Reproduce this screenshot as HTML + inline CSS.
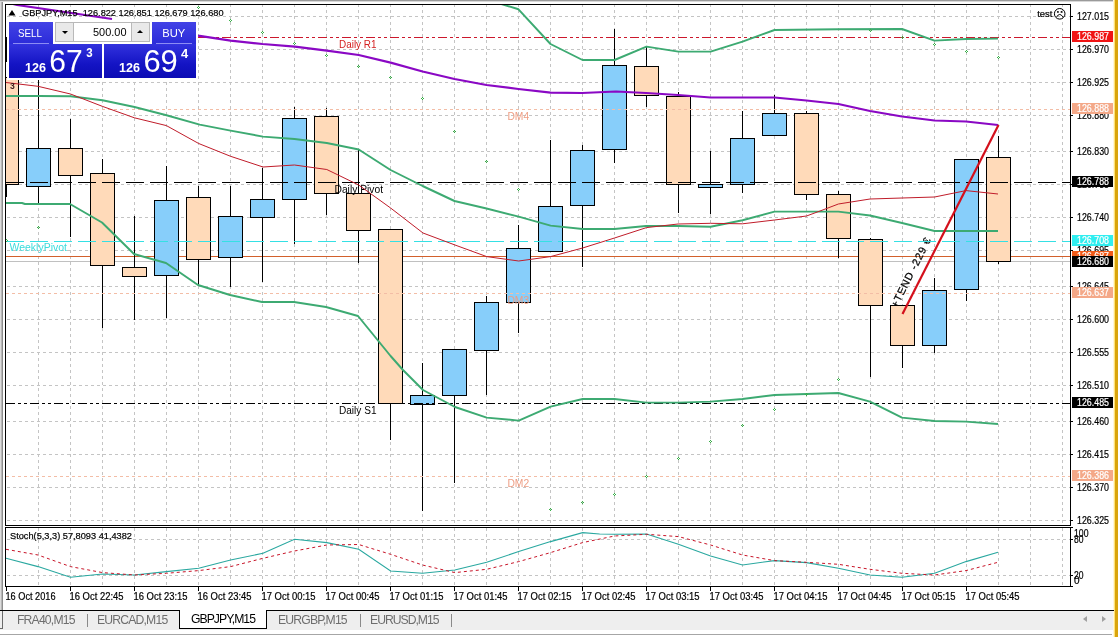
<!DOCTYPE html>
<html lang="en">
<head>
<meta charset="utf-8">
<title>GBPJPY,M15</title>
<style>
html,body{margin:0;padding:0;background:#fff;}
body{width:1118px;height:637px;overflow:hidden;position:relative;font-family:"Liberation Sans",Arial,sans-serif;}
#chart{position:absolute;left:0;top:0;display:block;}
/* one click trading panel */
#oct{position:absolute;left:9px;top:22px;width:187px;height:56px;background:#fff;box-shadow:0 0 0 2px #fff;}
#oct .btn{position:absolute;color:#fff;background:linear-gradient(#4343e6,#2a2ad8);}
#oct .sell{left:0;top:0;width:44px;height:23px;}
#oct .buy{left:143px;top:0;width:44px;height:23px;}
#oct .lbl{position:absolute;left:0;top:0;display:block;}
#oct .btn span{position:absolute;left:0;right:0;top:4px;text-align:center;font-size:12px;line-height:14px;letter-spacing:-0.6px;}
#oct .btn i{position:absolute;left:4px;right:4px;bottom:0;height:1px;background:#8a8af2;}
#oct .px{position:absolute;top:22px;height:34px;background:linear-gradient(#3232de,#1414c4 60%,#0c0cb4);color:#fff;}
#oct .pxs{left:0;width:93px;}
#oct .pxb{left:95px;width:92px;}
#oct .px b{position:absolute;font-weight:bold;font-size:12px;line-height:12px;}
#oct .px em{position:absolute;font-style:normal;font-size:31px;line-height:31px;letter-spacing:-2.4px;font-weight:normal;}
#oct .px sup{position:absolute;font-size:11px;line-height:11px;font-weight:bold;}
#oct .spin{position:absolute;top:0;height:18px;width:17px;background:#e9e9e9;border:1px solid #b9b9b9;box-sizing:content-box;}
#oct .spin.dn{left:46px;}
#oct .spin.up{left:122px;}
#oct .spin u{position:absolute;left:6px;top:8px;width:0;height:0;border-left:3px solid transparent;border-right:3px solid transparent;}
#oct .spin.dn u{border-top:3px solid #000;}
#oct .spin.up u{border-bottom:3px solid #000;top:7px;left:5px;}
#oct .vol{position:absolute;left:65px;top:0;width:57px;height:18px;border-top:1px solid #b9b9b9;border-bottom:1px solid #b9b9b9;background:#fff;font-size:11.5px;line-height:19px;text-align:right;letter-spacing:-0.5px;}
#oct .vol span{padding-right:5px;color:#000;}
/* tab bar */
#tabs{position:absolute;left:0;top:610px;width:1113px;height:27px;background:#fff;}
#tabs .line{position:absolute;left:0;top:0;width:1114px;height:1px;background:#000;}
#tabs .bar{position:absolute;left:0;top:1px;width:1113px;height:19px;background:#eeeeee;}
#tabs .edge{position:absolute;left:2px;top:1px;width:1px;height:18px;background:#6a6a6a;}
#tabs .edge2{position:absolute;left:0;top:18px;width:3px;height:1px;background:#6a6a6a;}
#tabs .under{position:absolute;left:0;top:24px;width:1112px;height:1px;background:#a6a6a6;}
#tabs .tab{position:absolute;top:1px;height:18px;font-size:12.2px;line-height:18px;color:#6e6e6e;white-space:nowrap;letter-spacing:-0.82px;}
#tabs .sep{position:absolute;top:4px;width:1px;height:13px;background:#8a8a8a;}
#tabs .active{color:#000;background:#fff;top:0;height:18px;border:1px solid #000;border-top:none;padding:0;text-align:center;}
#tabs .arr{position:absolute;top:6px;width:0;height:0;border-top:3px solid transparent;border-bottom:3px solid transparent;}
#tabs .arr.l{left:1083px;border-right:4px solid #a0a0a0;}
#tabs .arr.r{left:1102px;border-left:4px solid #a0a0a0;}
</style>
</head>
<body>
<svg id="chart" width="1118" height="637" viewBox="0 0 1118 637" font-family="Liberation Sans, Arial, sans-serif">
<defs>
<clipPath id="cm"><rect x="6" y="5" width="1064" height="520"/></clipPath>
<clipPath id="ci"><rect x="6" y="528" width="1064" height="58"/></clipPath>
</defs>
<rect x="0" y="0" width="1118" height="637" fill="#fff"/>
<g shape-rendering="crispEdges" clip-path="url(#cm)">
<line x1="38.5" y1="4" x2="38.5" y2="525" stroke="#c4c4c4" stroke-width="1" stroke-dasharray="3 3" />
<line x1="70.5" y1="4" x2="70.5" y2="525" stroke="#c4c4c4" stroke-width="1" stroke-dasharray="3 3" />
<line x1="102.5" y1="4" x2="102.5" y2="525" stroke="#c4c4c4" stroke-width="1" stroke-dasharray="3 3" />
<line x1="134.5" y1="4" x2="134.5" y2="525" stroke="#c4c4c4" stroke-width="1" stroke-dasharray="3 3" />
<line x1="166.5" y1="4" x2="166.5" y2="525" stroke="#c4c4c4" stroke-width="1" stroke-dasharray="3 3" />
<line x1="198.5" y1="4" x2="198.5" y2="525" stroke="#c4c4c4" stroke-width="1" stroke-dasharray="3 3" />
<line x1="230.5" y1="4" x2="230.5" y2="525" stroke="#c4c4c4" stroke-width="1" stroke-dasharray="3 3" />
<line x1="262.5" y1="4" x2="262.5" y2="525" stroke="#c4c4c4" stroke-width="1" stroke-dasharray="3 3" />
<line x1="294.5" y1="4" x2="294.5" y2="525" stroke="#c4c4c4" stroke-width="1" stroke-dasharray="3 3" />
<line x1="326.5" y1="4" x2="326.5" y2="525" stroke="#c4c4c4" stroke-width="1" stroke-dasharray="3 3" />
<line x1="358.5" y1="4" x2="358.5" y2="525" stroke="#c4c4c4" stroke-width="1" stroke-dasharray="3 3" />
<line x1="390.5" y1="4" x2="390.5" y2="525" stroke="#c4c4c4" stroke-width="1" stroke-dasharray="3 3" />
<line x1="422.5" y1="4" x2="422.5" y2="525" stroke="#c4c4c4" stroke-width="1" stroke-dasharray="3 3" />
<line x1="454.5" y1="4" x2="454.5" y2="525" stroke="#c4c4c4" stroke-width="1" stroke-dasharray="3 3" />
<line x1="486.5" y1="4" x2="486.5" y2="525" stroke="#c4c4c4" stroke-width="1" stroke-dasharray="3 3" />
<line x1="518.5" y1="4" x2="518.5" y2="525" stroke="#c4c4c4" stroke-width="1" stroke-dasharray="3 3" />
<line x1="550.5" y1="4" x2="550.5" y2="525" stroke="#c4c4c4" stroke-width="1" stroke-dasharray="3 3" />
<line x1="582.5" y1="4" x2="582.5" y2="525" stroke="#c4c4c4" stroke-width="1" stroke-dasharray="3 3" />
<line x1="614.5" y1="4" x2="614.5" y2="525" stroke="#c4c4c4" stroke-width="1" stroke-dasharray="3 3" />
<line x1="646.5" y1="4" x2="646.5" y2="525" stroke="#c4c4c4" stroke-width="1" stroke-dasharray="3 3" />
<line x1="678.5" y1="4" x2="678.5" y2="525" stroke="#c4c4c4" stroke-width="1" stroke-dasharray="3 3" />
<line x1="710.5" y1="4" x2="710.5" y2="525" stroke="#c4c4c4" stroke-width="1" stroke-dasharray="3 3" />
<line x1="742.5" y1="4" x2="742.5" y2="525" stroke="#c4c4c4" stroke-width="1" stroke-dasharray="3 3" />
<line x1="774.5" y1="4" x2="774.5" y2="525" stroke="#c4c4c4" stroke-width="1" stroke-dasharray="3 3" />
<line x1="806.5" y1="4" x2="806.5" y2="525" stroke="#c4c4c4" stroke-width="1" stroke-dasharray="3 3" />
<line x1="838.5" y1="4" x2="838.5" y2="525" stroke="#c4c4c4" stroke-width="1" stroke-dasharray="3 3" />
<line x1="870.5" y1="4" x2="870.5" y2="525" stroke="#c4c4c4" stroke-width="1" stroke-dasharray="3 3" />
<line x1="902.5" y1="4" x2="902.5" y2="525" stroke="#c4c4c4" stroke-width="1" stroke-dasharray="3 3" />
<line x1="934.5" y1="4" x2="934.5" y2="525" stroke="#c4c4c4" stroke-width="1" stroke-dasharray="3 3" />
<line x1="966.5" y1="4" x2="966.5" y2="525" stroke="#c4c4c4" stroke-width="1" stroke-dasharray="3 3" />
<line x1="998.5" y1="4" x2="998.5" y2="525" stroke="#c4c4c4" stroke-width="1" stroke-dasharray="3 3" />
<line x1="1030.5" y1="4" x2="1030.5" y2="525" stroke="#c4c4c4" stroke-width="1" stroke-dasharray="3 3" />
<line x1="1062.5" y1="4" x2="1062.5" y2="525" stroke="#c4c4c4" stroke-width="1" stroke-dasharray="3 3" />
<line x1="7" y1="16.5" x2="1070" y2="16.5" stroke="#c4c4c4" stroke-width="1" stroke-dasharray="3 3" />
<line x1="7" y1="49.5" x2="1070" y2="49.5" stroke="#c4c4c4" stroke-width="1" stroke-dasharray="3 3" />
<line x1="7" y1="82.5" x2="1070" y2="82.5" stroke="#c4c4c4" stroke-width="1" stroke-dasharray="3 3" />
<line x1="7" y1="115.5" x2="1070" y2="115.5" stroke="#c4c4c4" stroke-width="1" stroke-dasharray="3 3" />
<line x1="7" y1="151.5" x2="1070" y2="151.5" stroke="#c4c4c4" stroke-width="1" stroke-dasharray="3 3" />
<line x1="7" y1="184.5" x2="1070" y2="184.5" stroke="#c4c4c4" stroke-width="1" stroke-dasharray="3 3" />
<line x1="7" y1="217.5" x2="1070" y2="217.5" stroke="#c4c4c4" stroke-width="1" stroke-dasharray="3 3" />
<line x1="7" y1="250.5" x2="1070" y2="250.5" stroke="#c4c4c4" stroke-width="1" stroke-dasharray="3 3" />
<line x1="7" y1="286.5" x2="1070" y2="286.5" stroke="#c4c4c4" stroke-width="1" stroke-dasharray="3 3" />
<line x1="7" y1="319.5" x2="1070" y2="319.5" stroke="#c4c4c4" stroke-width="1" stroke-dasharray="3 3" />
<line x1="7" y1="352.5" x2="1070" y2="352.5" stroke="#c4c4c4" stroke-width="1" stroke-dasharray="3 3" />
<line x1="7" y1="385.5" x2="1070" y2="385.5" stroke="#c4c4c4" stroke-width="1" stroke-dasharray="3 3" />
<line x1="7" y1="421.5" x2="1070" y2="421.5" stroke="#c4c4c4" stroke-width="1" stroke-dasharray="3 3" />
<line x1="7" y1="454.5" x2="1070" y2="454.5" stroke="#c4c4c4" stroke-width="1" stroke-dasharray="3 3" />
<line x1="7" y1="487.5" x2="1070" y2="487.5" stroke="#c4c4c4" stroke-width="1" stroke-dasharray="3 3" />
<line x1="7" y1="520.5" x2="1070" y2="520.5" stroke="#c4c4c4" stroke-width="1" stroke-dasharray="3 3" />
</g>
<g shape-rendering="crispEdges" clip-path="url(#ci)">
<line x1="38.5" y1="528" x2="38.5" y2="586" stroke="#c4c4c4" stroke-width="1" stroke-dasharray="3 3" />
<line x1="70.5" y1="528" x2="70.5" y2="586" stroke="#c4c4c4" stroke-width="1" stroke-dasharray="3 3" />
<line x1="102.5" y1="528" x2="102.5" y2="586" stroke="#c4c4c4" stroke-width="1" stroke-dasharray="3 3" />
<line x1="134.5" y1="528" x2="134.5" y2="586" stroke="#c4c4c4" stroke-width="1" stroke-dasharray="3 3" />
<line x1="166.5" y1="528" x2="166.5" y2="586" stroke="#c4c4c4" stroke-width="1" stroke-dasharray="3 3" />
<line x1="198.5" y1="528" x2="198.5" y2="586" stroke="#c4c4c4" stroke-width="1" stroke-dasharray="3 3" />
<line x1="230.5" y1="528" x2="230.5" y2="586" stroke="#c4c4c4" stroke-width="1" stroke-dasharray="3 3" />
<line x1="262.5" y1="528" x2="262.5" y2="586" stroke="#c4c4c4" stroke-width="1" stroke-dasharray="3 3" />
<line x1="294.5" y1="528" x2="294.5" y2="586" stroke="#c4c4c4" stroke-width="1" stroke-dasharray="3 3" />
<line x1="326.5" y1="528" x2="326.5" y2="586" stroke="#c4c4c4" stroke-width="1" stroke-dasharray="3 3" />
<line x1="358.5" y1="528" x2="358.5" y2="586" stroke="#c4c4c4" stroke-width="1" stroke-dasharray="3 3" />
<line x1="390.5" y1="528" x2="390.5" y2="586" stroke="#c4c4c4" stroke-width="1" stroke-dasharray="3 3" />
<line x1="422.5" y1="528" x2="422.5" y2="586" stroke="#c4c4c4" stroke-width="1" stroke-dasharray="3 3" />
<line x1="454.5" y1="528" x2="454.5" y2="586" stroke="#c4c4c4" stroke-width="1" stroke-dasharray="3 3" />
<line x1="486.5" y1="528" x2="486.5" y2="586" stroke="#c4c4c4" stroke-width="1" stroke-dasharray="3 3" />
<line x1="518.5" y1="528" x2="518.5" y2="586" stroke="#c4c4c4" stroke-width="1" stroke-dasharray="3 3" />
<line x1="550.5" y1="528" x2="550.5" y2="586" stroke="#c4c4c4" stroke-width="1" stroke-dasharray="3 3" />
<line x1="582.5" y1="528" x2="582.5" y2="586" stroke="#c4c4c4" stroke-width="1" stroke-dasharray="3 3" />
<line x1="614.5" y1="528" x2="614.5" y2="586" stroke="#c4c4c4" stroke-width="1" stroke-dasharray="3 3" />
<line x1="646.5" y1="528" x2="646.5" y2="586" stroke="#c4c4c4" stroke-width="1" stroke-dasharray="3 3" />
<line x1="678.5" y1="528" x2="678.5" y2="586" stroke="#c4c4c4" stroke-width="1" stroke-dasharray="3 3" />
<line x1="710.5" y1="528" x2="710.5" y2="586" stroke="#c4c4c4" stroke-width="1" stroke-dasharray="3 3" />
<line x1="742.5" y1="528" x2="742.5" y2="586" stroke="#c4c4c4" stroke-width="1" stroke-dasharray="3 3" />
<line x1="774.5" y1="528" x2="774.5" y2="586" stroke="#c4c4c4" stroke-width="1" stroke-dasharray="3 3" />
<line x1="806.5" y1="528" x2="806.5" y2="586" stroke="#c4c4c4" stroke-width="1" stroke-dasharray="3 3" />
<line x1="838.5" y1="528" x2="838.5" y2="586" stroke="#c4c4c4" stroke-width="1" stroke-dasharray="3 3" />
<line x1="870.5" y1="528" x2="870.5" y2="586" stroke="#c4c4c4" stroke-width="1" stroke-dasharray="3 3" />
<line x1="902.5" y1="528" x2="902.5" y2="586" stroke="#c4c4c4" stroke-width="1" stroke-dasharray="3 3" />
<line x1="934.5" y1="528" x2="934.5" y2="586" stroke="#c4c4c4" stroke-width="1" stroke-dasharray="3 3" />
<line x1="966.5" y1="528" x2="966.5" y2="586" stroke="#c4c4c4" stroke-width="1" stroke-dasharray="3 3" />
<line x1="998.5" y1="528" x2="998.5" y2="586" stroke="#c4c4c4" stroke-width="1" stroke-dasharray="3 3" />
<line x1="1030.5" y1="528" x2="1030.5" y2="586" stroke="#c4c4c4" stroke-width="1" stroke-dasharray="3 3" />
<line x1="1062.5" y1="528" x2="1062.5" y2="586" stroke="#c4c4c4" stroke-width="1" stroke-dasharray="3 3" />
<line x1="7" y1="539.5" x2="1070" y2="539.5" stroke="#c4c4c4" stroke-width="1" stroke-dasharray="3 3" />
<line x1="7" y1="575.5" x2="1070" y2="575.5" stroke="#c4c4c4" stroke-width="1" stroke-dasharray="3 3" />
</g>
<g shape-rendering="crispEdges" clip-path="url(#cm)">
<line x1="6" y1="256.5" x2="1070" y2="256.5" stroke="#d2602c" stroke-width="1" />
<line x1="6" y1="261.5" x2="1070" y2="261.5" stroke="#c0c0c0" stroke-width="1" />
</g>
<g clip-path="url(#cm)">
<text transform="translate(897,308.5) rotate(-63.5)" x="0" y="0" font-size="10.5" fill="#000" stroke="#000" stroke-width="0.25" textLength="76.5" lengthAdjust="spacing">+TEND -229 €</text>
</g>
<g shape-rendering="crispEdges" clip-path="url(#cm)">
<line x1="6.5" y1="77" x2="6.5" y2="197" stroke="#000" stroke-width="1" />
<rect x="-5.5" y="77.5" width="24" height="107" fill="#ffdab9" stroke="#000" stroke-width="1"/>
<line x1="38.5" y1="70" x2="38.5" y2="205" stroke="#000" stroke-width="1" />
<rect x="26.5" y="148.5" width="24" height="38" fill="#87cefa" stroke="#000" stroke-width="1"/>
<line x1="70.5" y1="119" x2="70.5" y2="237" stroke="#000" stroke-width="1" />
<rect x="58.5" y="148.5" width="24" height="27" fill="#ffdab9" stroke="#000" stroke-width="1"/>
<line x1="102.5" y1="159" x2="102.5" y2="328" stroke="#000" stroke-width="1" />
<rect x="90.5" y="173.5" width="24" height="92" fill="#ffdab9" stroke="#000" stroke-width="1"/>
<line x1="134.5" y1="216" x2="134.5" y2="320" stroke="#000" stroke-width="1" />
<rect x="122.5" y="267.5" width="24" height="9" fill="#ffdab9" stroke="#000" stroke-width="1"/>
<line x1="166.5" y1="166" x2="166.5" y2="318" stroke="#000" stroke-width="1" />
<rect x="154.5" y="200.5" width="24" height="75" fill="#87cefa" stroke="#000" stroke-width="1"/>
<line x1="198.5" y1="186" x2="198.5" y2="286" stroke="#000" stroke-width="1" />
<rect x="186.5" y="197.5" width="24" height="62" fill="#ffdab9" stroke="#000" stroke-width="1"/>
<line x1="230.5" y1="186" x2="230.5" y2="287" stroke="#000" stroke-width="1" />
<rect x="218.5" y="216.5" width="24" height="41" fill="#87cefa" stroke="#000" stroke-width="1"/>
<line x1="262.5" y1="168" x2="262.5" y2="282" stroke="#000" stroke-width="1" />
<rect x="250.5" y="199.5" width="24" height="18" fill="#87cefa" stroke="#000" stroke-width="1"/>
<line x1="294.5" y1="107" x2="294.5" y2="244" stroke="#000" stroke-width="1" />
<rect x="282.5" y="118.5" width="24" height="81" fill="#87cefa" stroke="#000" stroke-width="1"/>
<line x1="326.5" y1="108" x2="326.5" y2="215" stroke="#000" stroke-width="1" />
<rect x="314.5" y="116.5" width="24" height="77" fill="#ffdab9" stroke="#000" stroke-width="1"/>
<line x1="358.5" y1="150" x2="358.5" y2="263" stroke="#000" stroke-width="1" />
<rect x="346.5" y="193.5" width="24" height="37" fill="#ffdab9" stroke="#000" stroke-width="1"/>
<line x1="390.5" y1="229" x2="390.5" y2="440" stroke="#000" stroke-width="1" />
<rect x="378.5" y="229.5" width="24" height="174" fill="#ffdab9" stroke="#000" stroke-width="1"/>
<line x1="422.5" y1="363" x2="422.5" y2="511" stroke="#000" stroke-width="1" />
<rect x="410.5" y="395.5" width="24" height="9" fill="#87cefa" stroke="#000" stroke-width="1"/>
<line x1="454.5" y1="349" x2="454.5" y2="483" stroke="#000" stroke-width="1" />
<rect x="442.5" y="349.5" width="24" height="46" fill="#87cefa" stroke="#000" stroke-width="1"/>
<line x1="486.5" y1="296" x2="486.5" y2="395" stroke="#000" stroke-width="1" />
<rect x="474.5" y="302.5" width="24" height="48" fill="#87cefa" stroke="#000" stroke-width="1"/>
<line x1="518.5" y1="225" x2="518.5" y2="333" stroke="#000" stroke-width="1" />
<rect x="506.5" y="248.5" width="24" height="54" fill="#87cefa" stroke="#000" stroke-width="1"/>
<line x1="550.5" y1="140" x2="550.5" y2="252" stroke="#000" stroke-width="1" />
<rect x="538.5" y="206.5" width="24" height="45" fill="#87cefa" stroke="#000" stroke-width="1"/>
<line x1="582.5" y1="145" x2="582.5" y2="267" stroke="#000" stroke-width="1" />
<rect x="570.5" y="150.5" width="24" height="55" fill="#87cefa" stroke="#000" stroke-width="1"/>
<line x1="614.5" y1="29" x2="614.5" y2="163" stroke="#000" stroke-width="1" />
<rect x="602.5" y="65.5" width="24" height="84" fill="#87cefa" stroke="#000" stroke-width="1"/>
<line x1="646.5" y1="47" x2="646.5" y2="107" stroke="#000" stroke-width="1" />
<rect x="634.5" y="66.5" width="24" height="29" fill="#ffdab9" stroke="#000" stroke-width="1"/>
<line x1="678.5" y1="92" x2="678.5" y2="213" stroke="#000" stroke-width="1" />
<rect x="666.5" y="96.5" width="24" height="88" fill="#ffdab9" stroke="#000" stroke-width="1"/>
<line x1="710.5" y1="151" x2="710.5" y2="214" stroke="#000" stroke-width="1" />
<rect x="698.5" y="184.5" width="24" height="3" fill="#87cefa" stroke="#000" stroke-width="1"/>
<line x1="742.5" y1="111" x2="742.5" y2="193" stroke="#000" stroke-width="1" />
<rect x="730.5" y="138.5" width="24" height="46" fill="#87cefa" stroke="#000" stroke-width="1"/>
<line x1="774.5" y1="95" x2="774.5" y2="136" stroke="#000" stroke-width="1" />
<rect x="762.5" y="113.5" width="24" height="22" fill="#87cefa" stroke="#000" stroke-width="1"/>
<line x1="806.5" y1="111" x2="806.5" y2="200" stroke="#000" stroke-width="1" />
<rect x="794.5" y="113.5" width="24" height="81" fill="#ffdab9" stroke="#000" stroke-width="1"/>
<line x1="838.5" y1="191" x2="838.5" y2="258" stroke="#000" stroke-width="1" />
<rect x="826.5" y="194.5" width="24" height="44" fill="#ffdab9" stroke="#000" stroke-width="1"/>
<line x1="870.5" y1="238" x2="870.5" y2="377" stroke="#000" stroke-width="1" />
<rect x="858.5" y="239.5" width="24" height="66" fill="#ffdab9" stroke="#000" stroke-width="1"/>
<line x1="902.5" y1="305" x2="902.5" y2="368" stroke="#000" stroke-width="1" />
<rect x="890.5" y="305.5" width="24" height="40" fill="#ffdab9" stroke="#000" stroke-width="1"/>
<line x1="934.5" y1="278" x2="934.5" y2="353" stroke="#000" stroke-width="1" />
<rect x="922.5" y="290.5" width="24" height="55" fill="#87cefa" stroke="#000" stroke-width="1"/>
<line x1="966.5" y1="159" x2="966.5" y2="301" stroke="#000" stroke-width="1" />
<rect x="954.5" y="159.5" width="24" height="130" fill="#87cefa" stroke="#000" stroke-width="1"/>
<line x1="998.5" y1="136" x2="998.5" y2="264" stroke="#000" stroke-width="1" />
<rect x="986.5" y="157.5" width="24" height="104" fill="#ffdab9" stroke="#000" stroke-width="1"/>
</g>
<g shape-rendering="crispEdges" clip-path="url(#cm)">
<line x1="6" y1="109.5" x2="1070" y2="109.5" stroke="#f3bda6" stroke-width="1" stroke-dasharray="3 3" />
<line x1="6" y1="293.5" x2="1070" y2="293.5" stroke="#f3bda6" stroke-width="1" stroke-dasharray="3 3" />
<line x1="6" y1="476.5" x2="1070" y2="476.5" stroke="#f3bda6" stroke-width="1" stroke-dasharray="3 3" />
<line x1="30" y1="37.5" x2="1070" y2="37.5" stroke="#cc182c" stroke-width="1" stroke-dasharray="9 3 3 3 3 3" />
<line x1="6" y1="182.5" x2="1070" y2="182.5" stroke="#000" stroke-width="1" stroke-dasharray="18 6" />
<line x1="6" y1="241.5" x2="1070" y2="241.5" stroke="#35e0e4" stroke-width="1" stroke-dasharray="18 6" />
<line x1="6" y1="403.5" x2="1070" y2="403.5" stroke="#000" stroke-width="1" stroke-dasharray="9 3 3 3 3 3" />
</g>
<g clip-path="url(#cm)">
<text x="339" y="48" font-size="10" fill="#d42020" textLength="37.5" lengthAdjust="spacingAndGlyphs">Daily R1</text>
<text x="518.3" y="119.8" font-size="10.3" fill="#ee9e84" text-anchor="middle">DM4</text>
<text x="518.3" y="303.5" font-size="10.3" fill="#ee9e84" text-anchor="middle">DM3</text>
<text x="518.3" y="486.8" font-size="10.3" fill="#ee9e84" text-anchor="middle">DM2</text>
<text x="334.5" y="192.5" font-size="10" fill="#000" textLength="48.5" lengthAdjust="spacingAndGlyphs">Daily Pivot</text>
<text x="339" y="414" font-size="10" fill="#000" textLength="37.5" lengthAdjust="spacingAndGlyphs">Daily S1</text>
<text x="9.5" y="251.3" font-size="10" fill="#3cdcdc" textLength="57.5" lengthAdjust="spacingAndGlyphs">WeeklyPivot</text>
</g>
<g clip-path="url(#cm)" fill="none" stroke-linejoin="round">
<polyline points="486.5,-0.5 518.5,9.3 550.5,44.0 582.5,60.0 614.5,60.0 646.5,46.6 678.4,51.6 710.6,51.6 742.5,41.6 774.5,30.0 838.0,29.3 902.0,29.0 934.5,40.6 966.0,39.0 998.0,38.6" stroke="#3daa72" stroke-width="1.95"/>
<polyline points="6.0,96.0 38.0,96.0 70.5,96.3 102.5,100.2 134.5,107.0 166.5,115.2 199.7,124.6 230.6,130.6 263.0,136.6 294.5,139.0 326.8,143.0 358.7,149.5 390.6,170.0 422.6,186.0 454.5,201.0 486.5,208.5 518.7,216.6 550.6,225.6 582.6,229.0 614.5,229.0 646.0,226.0 678.0,226.0 710.6,226.8 742.5,220.3 774.5,211.6 806.5,211.6 838.4,211.6 870.0,215.5 902.0,223.0 934.6,231.0 966.0,231.0 998.0,231.0" stroke="#3daa72" stroke-width="1.95"/>
<polyline points="6.0,203.0 22.0,203.0 25.0,204.0 70.0,204.0 102.0,222.5 134.0,254.0 166.0,263.0 198.0,285.0 230.0,295.0 262.0,302.0 294.0,302.0 326.0,307.0 358.0,316.0 390.6,356.0 403.0,370.0 423.0,390.0 455.0,407.0 486.7,417.6 518.7,420.6 550.6,406.6 582.6,399.0 614.5,399.0 646.5,402.6 678.0,402.6 710.6,401.6 742.5,399.0 774.5,395.0 806.5,394.0 838.4,393.0 870.0,401.6 902.0,417.6 934.6,421.0 966.0,421.6 998.0,424.0" stroke="#3daa72" stroke-width="1.95"/>
<polyline points="6.0,82.5 38.0,86.3 70.5,94.0 102.5,106.4 134.4,117.8 166.4,125.6 198.7,143.5 230.6,156.3 263.0,167.0 294.5,165.0 326.8,169.5 358.7,185.0 390.6,208.0 423.0,233.0 455.0,245.0 486.7,256.6 518.7,261.0 550.6,256.6 582.6,248.0 614.5,238.0 646.5,227.6 678.0,224.0 710.6,223.3 742.5,223.8 774.5,220.0 806.5,216.0 820.0,211.0 838.4,204.0 870.0,199.0 902.0,198.0 934.6,197.0 966.0,190.6 998.0,194.0" stroke="#c01c2a" stroke-width="1"/>
<polyline points="185.0,33.2 198.0,35.6 230.6,40.6 262.5,44.0 294.8,46.6 326.8,50.6 358.7,55.0 390.6,62.6 422.6,71.5 454.5,79.0 486.5,85.0 518.4,89.0 550.6,92.6 582.0,93.0 616.0,91.5 646.0,93.0 678.0,95.0 710.6,97.5 774.5,97.5 806.5,100.5 838.4,104.0 870.0,111.0 902.0,116.5 934.5,120.5 966.0,121.5 998.0,125.0" stroke="#8a08c4" stroke-width="2.2"/>
<polyline points="13.0,4.0 17.0,5.0 112.0,19.0" stroke="#8a08c4" stroke-width="2.2"/>
<line x1="902.5" y1="314" x2="998.5" y2="125" stroke="#d4101c" stroke-width="2.2"/>
<path d="M6 239h1v1h-1zM5 240h1v1h-1zM7 240h1v1h-1zM6 241h1v1h-1z" fill="#38b048" stroke="none" shape-rendering="crispEdges"/>
<path d="M38 226h1v1h-1zM37 227h1v1h-1zM39 227h1v1h-1zM38 228h1v1h-1z" fill="#38b048" stroke="none" shape-rendering="crispEdges"/>
<path d="M198 6h1v1h-1zM197 7h1v1h-1zM199 7h1v1h-1zM198 8h1v1h-1z" fill="#38b048" stroke="none" shape-rendering="crispEdges"/>
<path d="M230 19h1v1h-1zM229 20h1v1h-1zM231 20h1v1h-1zM230 21h1v1h-1z" fill="#38b048" stroke="none" shape-rendering="crispEdges"/>
<path d="M262 31h1v1h-1zM261 32h1v1h-1zM263 32h1v1h-1zM262 33h1v1h-1z" fill="#38b048" stroke="none" shape-rendering="crispEdges"/>
<path d="M294 42h1v1h-1zM293 43h1v1h-1zM295 43h1v1h-1zM294 44h1v1h-1z" fill="#38b048" stroke="none" shape-rendering="crispEdges"/>
<path d="M326 54h1v1h-1zM325 55h1v1h-1zM327 55h1v1h-1zM326 56h1v1h-1z" fill="#38b048" stroke="none" shape-rendering="crispEdges"/>
<path d="M358 65h1v1h-1zM357 66h1v1h-1zM359 66h1v1h-1zM358 67h1v1h-1z" fill="#38b048" stroke="none" shape-rendering="crispEdges"/>
<path d="M390 76h1v1h-1zM389 77h1v1h-1zM391 77h1v1h-1zM390 78h1v1h-1z" fill="#38b048" stroke="none" shape-rendering="crispEdges"/>
<path d="M422 97h1v1h-1zM421 98h1v1h-1zM423 98h1v1h-1zM422 99h1v1h-1z" fill="#38b048" stroke="none" shape-rendering="crispEdges"/>
<path d="M454 130h1v1h-1zM453 131h1v1h-1zM455 131h1v1h-1zM454 132h1v1h-1z" fill="#38b048" stroke="none" shape-rendering="crispEdges"/>
<path d="M486 160h1v1h-1zM485 161h1v1h-1zM487 161h1v1h-1zM486 162h1v1h-1z" fill="#38b048" stroke="none" shape-rendering="crispEdges"/>
<path d="M518 188h1v1h-1zM517 189h1v1h-1zM519 189h1v1h-1zM518 190h1v1h-1z" fill="#38b048" stroke="none" shape-rendering="crispEdges"/>
<path d="M550 508h1v1h-1zM549 509h1v1h-1zM551 509h1v1h-1zM550 510h1v1h-1z" fill="#38b048" stroke="none" shape-rendering="crispEdges"/>
<path d="M582 501h1v1h-1zM581 502h1v1h-1zM583 502h1v1h-1zM582 503h1v1h-1z" fill="#38b048" stroke="none" shape-rendering="crispEdges"/>
<path d="M614 493h1v1h-1zM613 494h1v1h-1zM615 494h1v1h-1zM614 495h1v1h-1z" fill="#38b048" stroke="none" shape-rendering="crispEdges"/>
<path d="M646 475h1v1h-1zM645 476h1v1h-1zM647 476h1v1h-1zM646 477h1v1h-1z" fill="#38b048" stroke="none" shape-rendering="crispEdges"/>
<path d="M678 457h1v1h-1zM677 458h1v1h-1zM679 458h1v1h-1zM678 459h1v1h-1z" fill="#38b048" stroke="none" shape-rendering="crispEdges"/>
<path d="M710 440h1v1h-1zM709 441h1v1h-1zM711 441h1v1h-1zM710 442h1v1h-1z" fill="#38b048" stroke="none" shape-rendering="crispEdges"/>
<path d="M742 424h1v1h-1zM741 425h1v1h-1zM743 425h1v1h-1zM742 426h1v1h-1z" fill="#38b048" stroke="none" shape-rendering="crispEdges"/>
<path d="M774 408h1v1h-1zM773 409h1v1h-1zM775 409h1v1h-1zM774 410h1v1h-1z" fill="#38b048" stroke="none" shape-rendering="crispEdges"/>
<path d="M806 393h1v1h-1zM805 394h1v1h-1zM807 394h1v1h-1zM806 395h1v1h-1z" fill="#38b048" stroke="none" shape-rendering="crispEdges"/>
<path d="M838 378h1v1h-1zM837 379h1v1h-1zM839 379h1v1h-1zM838 380h1v1h-1z" fill="#38b048" stroke="none" shape-rendering="crispEdges"/>
<path d="M870 29h1v1h-1zM869 30h1v1h-1zM871 30h1v1h-1zM870 31h1v1h-1z" fill="#38b048" stroke="none" shape-rendering="crispEdges"/>
<path d="M902 36h1v1h-1zM901 37h1v1h-1zM903 37h1v1h-1zM902 38h1v1h-1z" fill="#38b048" stroke="none" shape-rendering="crispEdges"/>
<path d="M934 43h1v1h-1zM933 44h1v1h-1zM935 44h1v1h-1zM934 45h1v1h-1z" fill="#38b048" stroke="none" shape-rendering="crispEdges"/>
<path d="M966 50h1v1h-1zM965 51h1v1h-1zM967 51h1v1h-1zM966 52h1v1h-1z" fill="#38b048" stroke="none" shape-rendering="crispEdges"/>
<path d="M998 56h1v1h-1zM997 57h1v1h-1zM999 57h1v1h-1zM998 58h1v1h-1z" fill="#38b048" stroke="none" shape-rendering="crispEdges"/>
</g>
<text x="10" y="89.3" font-size="8.6" fill="#3a1a1a" font-weight="bold">3</text>
<line x1="6.5" y1="37" x2="6.5" y2="62" stroke="#000" stroke-width="1" shape-rendering="crispEdges"/>
<g clip-path="url(#ci)" fill="none">
<polyline points="6.0,558.3 38.0,566.6 70.5,577.3 102.5,574.0 134.5,575.0 166.4,571.6 198.7,568.3 230.6,560.0 263.0,553.3 294.5,539.3 326.8,542.6 358.7,549.3 390.6,571.0 422.5,573.3 454.8,570.0 486.7,562.3 518.7,551.6 550.6,541.6 582.6,532.6 599.6,534.0 614.5,534.3 646.5,534.0 678.4,544.3 710.6,556.0 742.5,565.0 774.5,560.6 806.5,562.6 838.4,568.3 870.0,575.0 902.0,577.3 934.6,573.3 966.0,561.6 998.0,552.3" stroke="#2aa8a0" stroke-width="1.1"/>
<polyline points="6.0,549.3 38.0,555.0 70.5,566.6 102.5,572.6 134.5,575.0 166.4,573.3 198.7,570.6 230.6,566.6 263.0,558.3 294.5,551.0 326.8,545.0 358.7,544.5 390.6,554.3 422.5,565.0 454.8,572.6 486.7,569.3 518.7,561.6 550.6,552.6 582.6,542.6 614.5,536.0 646.5,534.3 678.4,536.6 710.6,545.0 742.5,555.0 774.5,560.6 806.5,562.3 838.4,564.3 870.0,569.3 902.0,573.3 934.6,575.0 966.0,570.6 998.0,562.3" stroke="#c81428" stroke-width="1" stroke-dasharray="3 3"/>
</g>
<text x="10" y="538.5" font-size="9" fill="#000" stroke="#000" stroke-width="0.2" textLength="122" lengthAdjust="spacingAndGlyphs">Stoch(5,3,3) 57,8093 41,4382</text>
<g shape-rendering="crispEdges" fill="none" stroke="#000" stroke-width="1">
<rect x="5.5" y="4.5" width="1065" height="521"/>
<rect x="5.5" y="527.5" width="1065" height="59"/>
</g>
<g shape-rendering="crispEdges">
<line x1="1071" y1="16.5" x2="1073" y2="16.5" stroke="#000" stroke-width="1" />
<line x1="1071" y1="49.5" x2="1073" y2="49.5" stroke="#000" stroke-width="1" />
<line x1="1071" y1="82.5" x2="1073" y2="82.5" stroke="#000" stroke-width="1" />
<line x1="1071" y1="115.5" x2="1073" y2="115.5" stroke="#000" stroke-width="1" />
<line x1="1071" y1="151.5" x2="1073" y2="151.5" stroke="#000" stroke-width="1" />
<line x1="1071" y1="184.5" x2="1073" y2="184.5" stroke="#000" stroke-width="1" />
<line x1="1071" y1="217.5" x2="1073" y2="217.5" stroke="#000" stroke-width="1" />
<line x1="1071" y1="250.5" x2="1073" y2="250.5" stroke="#000" stroke-width="1" />
<line x1="1071" y1="286.5" x2="1073" y2="286.5" stroke="#000" stroke-width="1" />
<line x1="1071" y1="319.5" x2="1073" y2="319.5" stroke="#000" stroke-width="1" />
<line x1="1071" y1="352.5" x2="1073" y2="352.5" stroke="#000" stroke-width="1" />
<line x1="1071" y1="385.5" x2="1073" y2="385.5" stroke="#000" stroke-width="1" />
<line x1="1071" y1="421.5" x2="1073" y2="421.5" stroke="#000" stroke-width="1" />
<line x1="1071" y1="454.5" x2="1073" y2="454.5" stroke="#000" stroke-width="1" />
<line x1="1071" y1="487.5" x2="1073" y2="487.5" stroke="#000" stroke-width="1" />
<line x1="1071" y1="520.5" x2="1073" y2="520.5" stroke="#000" stroke-width="1" />
<line x1="1071" y1="527.5" x2="1073" y2="527.5" stroke="#000" stroke-width="1" />
<line x1="1071" y1="539.5" x2="1073" y2="539.5" stroke="#000" stroke-width="1" />
<line x1="1071" y1="575.5" x2="1073" y2="575.5" stroke="#000" stroke-width="1" />
<line x1="1071" y1="586.5" x2="1073" y2="586.5" stroke="#000" stroke-width="1" />
</g>
<text x="1077" y="20" font-size="10" fill="#000" stroke="#000" stroke-width="0.2" textLength="32" lengthAdjust="spacingAndGlyphs">127.015</text>
<text x="1077" y="53" font-size="10" fill="#000" stroke="#000" stroke-width="0.2" textLength="32" lengthAdjust="spacingAndGlyphs">126.970</text>
<text x="1077" y="86" font-size="10" fill="#000" stroke="#000" stroke-width="0.2" textLength="32" lengthAdjust="spacingAndGlyphs">126.925</text>
<text x="1077" y="119" font-size="10" fill="#000" stroke="#000" stroke-width="0.2" textLength="32" lengthAdjust="spacingAndGlyphs">126.880</text>
<text x="1077" y="155" font-size="10" fill="#000" stroke="#000" stroke-width="0.2" textLength="32" lengthAdjust="spacingAndGlyphs">126.830</text>
<text x="1077" y="188" font-size="10" fill="#000" stroke="#000" stroke-width="0.2" textLength="32" lengthAdjust="spacingAndGlyphs">126.785</text>
<text x="1077" y="221" font-size="10" fill="#000" stroke="#000" stroke-width="0.2" textLength="32" lengthAdjust="spacingAndGlyphs">126.740</text>
<text x="1077" y="254" font-size="10" fill="#000" stroke="#000" stroke-width="0.2" textLength="32" lengthAdjust="spacingAndGlyphs">126.695</text>
<text x="1077" y="290" font-size="10" fill="#000" stroke="#000" stroke-width="0.2" textLength="32" lengthAdjust="spacingAndGlyphs">126.645</text>
<text x="1077" y="323" font-size="10" fill="#000" stroke="#000" stroke-width="0.2" textLength="32" lengthAdjust="spacingAndGlyphs">126.600</text>
<text x="1077" y="356" font-size="10" fill="#000" stroke="#000" stroke-width="0.2" textLength="32" lengthAdjust="spacingAndGlyphs">126.555</text>
<text x="1077" y="389" font-size="10" fill="#000" stroke="#000" stroke-width="0.2" textLength="32" lengthAdjust="spacingAndGlyphs">126.510</text>
<text x="1077" y="425" font-size="10" fill="#000" stroke="#000" stroke-width="0.2" textLength="32" lengthAdjust="spacingAndGlyphs">126.460</text>
<text x="1077" y="458" font-size="10" fill="#000" stroke="#000" stroke-width="0.2" textLength="32" lengthAdjust="spacingAndGlyphs">126.415</text>
<text x="1077" y="491" font-size="10" fill="#000" stroke="#000" stroke-width="0.2" textLength="32" lengthAdjust="spacingAndGlyphs">126.370</text>
<text x="1077" y="524" font-size="10" fill="#000" stroke="#000" stroke-width="0.2" textLength="32" lengthAdjust="spacingAndGlyphs">126.325</text>
<rect x="1072" y="31" width="41" height="11" fill="#f01414" shape-rendering="crispEdges"/>
<text x="1077" y="40" font-size="10" fill="#fff" stroke="#fff" stroke-width="0.2" textLength="32" lengthAdjust="spacingAndGlyphs">126.987</text>
<rect x="1072" y="103" width="41" height="11" fill="#f4a888" shape-rendering="crispEdges"/>
<text x="1077" y="112" font-size="10" fill="#fff" stroke="#fff" stroke-width="0.2" textLength="32" lengthAdjust="spacingAndGlyphs">126.888</text>
<rect x="1072" y="176" width="41" height="11" fill="#000" shape-rendering="crispEdges"/>
<text x="1077" y="185" font-size="10" fill="#fff" stroke="#fff" stroke-width="0.2" textLength="32" lengthAdjust="spacingAndGlyphs">126.788</text>
<rect x="1072" y="235" width="41" height="11" fill="#30eef0" shape-rendering="crispEdges"/>
<text x="1077" y="244" font-size="10" fill="#fff" stroke="#fff" stroke-width="0.2" textLength="32" lengthAdjust="spacingAndGlyphs">126.708</text>
<rect x="1072" y="251" width="41" height="11" fill="#f05a18" shape-rendering="crispEdges"/>
<text x="1077" y="260" font-size="10" fill="#fff" stroke="#fff" stroke-width="0.2" textLength="32" lengthAdjust="spacingAndGlyphs">126.687</text>
<rect x="1072" y="256" width="41" height="11" fill="#000" shape-rendering="crispEdges"/>
<text x="1077" y="265" font-size="10" fill="#fff" stroke="#fff" stroke-width="0.2" textLength="32" lengthAdjust="spacingAndGlyphs">126.680</text>
<rect x="1072" y="287" width="41" height="11" fill="#f4a888" shape-rendering="crispEdges"/>
<text x="1077" y="296" font-size="10" fill="#fff" stroke="#fff" stroke-width="0.2" textLength="32" lengthAdjust="spacingAndGlyphs">126.637</text>
<rect x="1072" y="397" width="41" height="11" fill="#000" shape-rendering="crispEdges"/>
<text x="1077" y="406" font-size="10" fill="#fff" stroke="#fff" stroke-width="0.2" textLength="32" lengthAdjust="spacingAndGlyphs">126.485</text>
<rect x="1072" y="470" width="41" height="11" fill="#f4a888" shape-rendering="crispEdges"/>
<text x="1077" y="479" font-size="10" fill="#fff" stroke="#fff" stroke-width="0.2" textLength="32" lengthAdjust="spacingAndGlyphs">126.386</text>
<text x="1074" y="537" font-size="10" fill="#000" stroke="#000" stroke-width="0.2" textLength="14.5" lengthAdjust="spacingAndGlyphs">100</text>
<text x="1074" y="543" font-size="10" fill="#000" stroke="#000" stroke-width="0.2" textLength="9.5" lengthAdjust="spacingAndGlyphs">80</text>
<text x="1074" y="578.5" font-size="10" fill="#000" stroke="#000" stroke-width="0.2" textLength="9.5" lengthAdjust="spacingAndGlyphs">20</text>
<text x="1074" y="584" font-size="10" fill="#000" stroke="#000" stroke-width="0.2">0</text>
<g shape-rendering="crispEdges">
<line x1="6.5" y1="587" x2="6.5" y2="591" stroke="#000" stroke-width="1" />
<line x1="70.5" y1="587" x2="70.5" y2="591" stroke="#000" stroke-width="1" />
<line x1="134.5" y1="587" x2="134.5" y2="591" stroke="#000" stroke-width="1" />
<line x1="198.5" y1="587" x2="198.5" y2="591" stroke="#000" stroke-width="1" />
<line x1="262.5" y1="587" x2="262.5" y2="591" stroke="#000" stroke-width="1" />
<line x1="326.5" y1="587" x2="326.5" y2="591" stroke="#000" stroke-width="1" />
<line x1="390.5" y1="587" x2="390.5" y2="591" stroke="#000" stroke-width="1" />
<line x1="454.5" y1="587" x2="454.5" y2="591" stroke="#000" stroke-width="1" />
<line x1="518.5" y1="587" x2="518.5" y2="591" stroke="#000" stroke-width="1" />
<line x1="582.5" y1="587" x2="582.5" y2="591" stroke="#000" stroke-width="1" />
<line x1="646.5" y1="587" x2="646.5" y2="591" stroke="#000" stroke-width="1" />
<line x1="710.5" y1="587" x2="710.5" y2="591" stroke="#000" stroke-width="1" />
<line x1="774.5" y1="587" x2="774.5" y2="591" stroke="#000" stroke-width="1" />
<line x1="838.5" y1="587" x2="838.5" y2="591" stroke="#000" stroke-width="1" />
<line x1="902.5" y1="587" x2="902.5" y2="591" stroke="#000" stroke-width="1" />
<line x1="966.5" y1="587" x2="966.5" y2="591" stroke="#000" stroke-width="1" />
</g>
<text x="5.5" y="600" font-size="10" fill="#000" stroke="#000" stroke-width="0.2" textLength="50" lengthAdjust="spacingAndGlyphs">16 Oct 2016</text>
<text x="69.5" y="600" font-size="10" fill="#000" stroke="#000" stroke-width="0.2" textLength="54" lengthAdjust="spacingAndGlyphs">16 Oct 22:45</text>
<text x="133.5" y="600" font-size="10" fill="#000" stroke="#000" stroke-width="0.2" textLength="54" lengthAdjust="spacingAndGlyphs">16 Oct 23:15</text>
<text x="197.5" y="600" font-size="10" fill="#000" stroke="#000" stroke-width="0.2" textLength="54" lengthAdjust="spacingAndGlyphs">16 Oct 23:45</text>
<text x="261.5" y="600" font-size="10" fill="#000" stroke="#000" stroke-width="0.2" textLength="54" lengthAdjust="spacingAndGlyphs">17 Oct 00:15</text>
<text x="325.5" y="600" font-size="10" fill="#000" stroke="#000" stroke-width="0.2" textLength="54" lengthAdjust="spacingAndGlyphs">17 Oct 00:45</text>
<text x="389.5" y="600" font-size="10" fill="#000" stroke="#000" stroke-width="0.2" textLength="54" lengthAdjust="spacingAndGlyphs">17 Oct 01:15</text>
<text x="453.5" y="600" font-size="10" fill="#000" stroke="#000" stroke-width="0.2" textLength="54" lengthAdjust="spacingAndGlyphs">17 Oct 01:45</text>
<text x="517.5" y="600" font-size="10" fill="#000" stroke="#000" stroke-width="0.2" textLength="54" lengthAdjust="spacingAndGlyphs">17 Oct 02:15</text>
<text x="581.5" y="600" font-size="10" fill="#000" stroke="#000" stroke-width="0.2" textLength="54" lengthAdjust="spacingAndGlyphs">17 Oct 02:45</text>
<text x="645.5" y="600" font-size="10" fill="#000" stroke="#000" stroke-width="0.2" textLength="54" lengthAdjust="spacingAndGlyphs">17 Oct 03:15</text>
<text x="709.5" y="600" font-size="10" fill="#000" stroke="#000" stroke-width="0.2" textLength="54" lengthAdjust="spacingAndGlyphs">17 Oct 03:45</text>
<text x="773.5" y="600" font-size="10" fill="#000" stroke="#000" stroke-width="0.2" textLength="54" lengthAdjust="spacingAndGlyphs">17 Oct 04:15</text>
<text x="837.5" y="600" font-size="10" fill="#000" stroke="#000" stroke-width="0.2" textLength="54" lengthAdjust="spacingAndGlyphs">17 Oct 04:45</text>
<text x="901.5" y="600" font-size="10" fill="#000" stroke="#000" stroke-width="0.2" textLength="54" lengthAdjust="spacingAndGlyphs">17 Oct 05:15</text>
<text x="965.5" y="600" font-size="10" fill="#000" stroke="#000" stroke-width="0.2" textLength="54" lengthAdjust="spacingAndGlyphs">17 Oct 05:45</text>
<path d="M8.5 15.5 L15.5 15.5 L12 10 Z" fill="#000"/>
<text x="22" y="16" font-size="9.4" fill="#000" stroke="#000" stroke-width="0.2" textLength="201.5" lengthAdjust="spacingAndGlyphs">GBPJPY,M15  126.822 126.851 126.679 126.680</text>
<text x="1037.2" y="16.8" font-size="8.8" fill="#000" stroke="#000" stroke-width="0.2" textLength="15.2" lengthAdjust="spacingAndGlyphs">test</text>
<g fill="none" stroke="#000" stroke-width="1"><circle cx="1059.7" cy="13.8" r="5.3"/><path d="M1056.6 16.9 Q1059.7 12 1062.9 16.9"/></g>
<circle cx="1057.9" cy="11.9" r="0.95" fill="#000"/><circle cx="1061.5" cy="11.9" r="0.95" fill="#000"/>
<g shape-rendering="crispEdges">
<rect x="0" y="0" width="1113" height="1" fill="#9a9a9a"/>
<rect x="0" y="1" width="1113" height="1" fill="#d8d8d8"/>
<rect x="2" y="2" width="1" height="608" fill="#8e8e8e"/>
<rect x="1" y="2" width="1" height="608" fill="#b8b8b8"/>
<rect x="0" y="2" width="1" height="635" fill="#dcdcdc"/>
<rect x="1113" y="0" width="1" height="637" fill="#fff6d8"/>
<rect x="1114" y="0" width="1" height="637" fill="#ffe27a"/>
<rect x="1115" y="0" width="3" height="637" fill="#d9a40c"/>
</g>
</svg>
<div id="oct">
  <div class="btn sell"><i></i></div>
  <div class="spin dn"><u></u></div>
  <div class="vol"></div>
  <div class="spin up"><u></u></div>
  <div class="btn buy"><i></i></div>
  <div class="px pxs"></div>
  <div class="px pxb"></div>
  <svg class="lbl" width="187" height="56" viewBox="9 22 187 56" font-family="Liberation Sans, Arial, sans-serif" fill="#fff">
    <rect x="13" y="43" width="36" height="1" fill="#8c8cf4"/>
    <rect x="156" y="43" width="36" height="1" fill="#8c8cf4"/>
    <text x="18" y="36.7" font-size="11.6" textLength="24" lengthAdjust="spacingAndGlyphs">SELL</text>
    <text x="162.2" y="36.7" font-size="11.6" textLength="23" lengthAdjust="spacingAndGlyphs">BUY</text>
    <text x="93" y="35.7" font-size="11.8" fill="#000" textLength="33.5" lengthAdjust="spacingAndGlyphs">500.00</text>
    <text x="25" y="71.7" font-size="12" font-weight="bold" textLength="21" lengthAdjust="spacingAndGlyphs">126</text>
    <text x="49.2" y="71.9" font-size="32" textLength="33.4" lengthAdjust="spacingAndGlyphs">67</text>
    <text x="86.3" y="56.9" font-size="12" font-weight="bold" textLength="6.4" lengthAdjust="spacingAndGlyphs">3</text>
    <text x="119.1" y="71.7" font-size="12" font-weight="bold" textLength="21" lengthAdjust="spacingAndGlyphs">126</text>
    <text x="143.4" y="71.9" font-size="32" textLength="34.4" lengthAdjust="spacingAndGlyphs">69</text>
    <text x="181" y="57.6" font-size="12" font-weight="bold" textLength="7.2" lengthAdjust="spacingAndGlyphs">4</text>
  </svg>
</div>
<div id="tabs">
  <div class="bar"></div>
  <div class="line"></div>
  <div class="edge"></div><div class="edge2"></div>
  <div class="tab" style="left:17px">FRA40,M15</div>
  <div class="sep" style="left:87px"></div>
  <div class="tab" style="left:97px">EURCAD,M15</div>
  <div class="tab active" style="left:179px;width:86px;letter-spacing:-0.96px">GBPJPY,M15</div>
  <div class="tab" style="left:278px">EURGBP,M15</div>
  <div class="sep" style="left:360px"></div>
  <div class="tab" style="left:370px;letter-spacing:-1px">EURUSD,M15</div>
  <div class="sep" style="left:451px"></div>
  <div class="arr l"></div><div class="arr r"></div>
  <div class="under"></div>
</div>
</body>
</html>
